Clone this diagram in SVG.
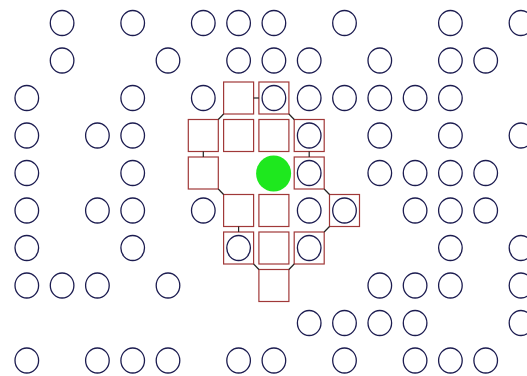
<svg xmlns="http://www.w3.org/2000/svg" width="527" height="376" viewBox="0 0 527 376">
<style>
.c{fill:none;stroke:#1c1c50;stroke-width:1.3}
.s{fill:none;stroke:#a03838;stroke-width:1.2}
.g{fill:#1ee81e;stroke:none}
.k{stroke:#222;stroke-width:1.2;fill:none}
</style>
<defs>
<ellipse id="o" cx="0" cy="0" rx="11.8" ry="12.5" class="c"/>
<rect id="q" x="-15" y="-16" width="30" height="32" class="s"/>
</defs>
<rect width="527" height="376" fill="#fff"/>
<g id="r0">
<g id="n0_1"><use href="#o" x="62.1" y="23"/></g>
<g id="n0_3"><use href="#o" x="132.7" y="23"/></g>
<g id="n0_5"><use href="#o" x="203.3" y="23"/></g>
<g id="n0_6"><use href="#o" x="238.6" y="23"/></g>
<g id="n0_7"><use href="#o" x="273.9" y="23"/></g>
<g id="n0_9"><use href="#o" x="344.5" y="23"/></g>
<g id="n0_12"><use href="#o" x="450.4" y="23"/></g>
<g id="n0_14"><use href="#o" x="521" y="23"/></g>
</g>
<g id="r1">
<g id="n1_1"><use href="#o" x="62.1" y="60.5"/></g>
<g id="n1_4"><use href="#o" x="168" y="60.5"/></g>
<g id="n1_6"><use href="#o" x="238.6" y="60.5"/></g>
<g id="n1_7"><use href="#o" x="273.9" y="60.5"/></g>
<g id="n1_8"><use href="#o" x="309.2" y="60.5"/></g>
<g id="n1_10"><use href="#o" x="379.8" y="60.5"/></g>
<g id="n1_12"><use href="#o" x="450.4" y="60.5"/></g>
<g id="n1_13"><use href="#o" x="485.7" y="60.5"/></g>
</g>
<g id="r2">
<g id="n2_0"><use href="#o" x="26.8" y="98"/></g>
<g id="n2_3"><use href="#o" x="132.7" y="98"/></g>
<g id="n2_5"><use href="#o" x="203.3" y="98"/></g>
<g id="n2_6"><use href="#q" x="238.6" y="98"/></g>
<g id="n2_7"><use href="#q" x="273.9" y="98"/><use href="#o" x="273.9" y="98"/></g>
<g id="n2_8"><use href="#o" x="309.2" y="98"/></g>
<g id="n2_9"><use href="#o" x="344.5" y="98"/></g>
<g id="n2_10"><use href="#o" x="379.8" y="98"/></g>
<g id="n2_11"><use href="#o" x="415.1" y="98"/></g>
<g id="n2_12"><use href="#o" x="450.4" y="98"/></g>
</g>
<g id="r3">
<g id="n3_0"><use href="#o" x="26.8" y="135.5"/></g>
<g id="n3_2"><use href="#o" x="97.4" y="135.5"/></g>
<g id="n3_3"><use href="#o" x="132.7" y="135.5"/></g>
<g id="n3_5"><use href="#q" x="203.3" y="135.5"/></g>
<g id="n3_6"><use href="#q" x="238.6" y="135.5"/></g>
<g id="n3_7"><use href="#q" x="273.9" y="135.5"/></g>
<g id="n3_8"><use href="#q" x="309.2" y="135.5"/><use href="#o" x="309.2" y="135.5"/></g>
<g id="n3_10"><use href="#o" x="379.8" y="135.5"/></g>
<g id="n3_12"><use href="#o" x="450.4" y="135.5"/></g>
<g id="n3_14"><use href="#o" x="521" y="135.5"/></g>
</g>
<g id="r4">
<g id="n4_0"><use href="#o" x="26.8" y="173"/></g>
<g id="n4_3"><use href="#o" x="132.7" y="173"/></g>
<g id="n4_5"><use href="#q" x="203.3" y="173"/></g>
<g id="n4_7"><ellipse class="g" cx="273.6" cy="173.5" rx="17.5" ry="18"/></g>
<g id="n4_8"><use href="#q" x="309.2" y="173"/><use href="#o" x="309.2" y="173"/></g>
<g id="n4_10"><use href="#o" x="379.8" y="173"/></g>
<g id="n4_11"><use href="#o" x="415.1" y="173"/></g>
<g id="n4_12"><use href="#o" x="450.4" y="173"/></g>
<g id="n4_13"><use href="#o" x="485.7" y="173"/></g>
</g>
<g id="r5">
<g id="n5_0"><use href="#o" x="26.8" y="210.5"/></g>
<g id="n5_2"><use href="#o" x="97.4" y="210.5"/></g>
<g id="n5_3"><use href="#o" x="132.7" y="210.5"/></g>
<g id="n5_5"><use href="#o" x="203.3" y="210.5"/></g>
<g id="n5_6"><use href="#q" x="238.6" y="210.5"/></g>
<g id="n5_7"><use href="#q" x="273.9" y="210.5"/></g>
<g id="n5_8"><use href="#o" x="309.2" y="210.5"/></g>
<g id="n5_9"><use href="#q" x="344.5" y="210.5"/><use href="#o" x="344.5" y="210.5"/></g>
<g id="n5_11"><use href="#o" x="415.1" y="210.5"/></g>
<g id="n5_12"><use href="#o" x="450.4" y="210.5"/></g>
<g id="n5_13"><use href="#o" x="485.7" y="210.5"/></g>
</g>
<g id="r6">
<g id="n6_0"><use href="#o" x="26.8" y="248"/></g>
<g id="n6_3"><use href="#o" x="132.7" y="248"/></g>
<g id="n6_6"><use href="#q" x="238.6" y="248"/><use href="#o" x="238.6" y="248"/></g>
<g id="n6_7"><use href="#q" x="273.9" y="248"/></g>
<g id="n6_8"><use href="#q" x="309.2" y="248"/><use href="#o" x="309.2" y="248"/></g>
<g id="n6_12"><use href="#o" x="450.4" y="248"/></g>
<g id="n6_14"><use href="#o" x="521" y="248"/></g>
</g>
<g id="r7">
<g id="n7_0"><use href="#o" x="26.8" y="285.5"/></g>
<g id="n7_1"><use href="#o" x="62.1" y="285.5"/></g>
<g id="n7_2"><use href="#o" x="97.4" y="285.5"/></g>
<g id="n7_4"><use href="#o" x="168" y="285.5"/></g>
<g id="n7_7"><use href="#q" x="273.9" y="285.5"/></g>
<g id="n7_10"><use href="#o" x="379.8" y="285.5"/></g>
<g id="n7_11"><use href="#o" x="415.1" y="285.5"/></g>
<g id="n7_12"><use href="#o" x="450.4" y="285.5"/></g>
<g id="n7_14"><use href="#o" x="521" y="285.5"/></g>
</g>
<g id="r8">
<g id="n8_8"><use href="#o" x="309.2" y="323"/></g>
<g id="n8_9"><use href="#o" x="344.5" y="323"/></g>
<g id="n8_10"><use href="#o" x="379.8" y="323"/></g>
<g id="n8_11"><use href="#o" x="415.1" y="323"/></g>
<g id="n8_14"><use href="#o" x="521" y="323"/></g>
</g>
<g id="r9">
<g id="n9_0"><use href="#o" x="26.8" y="360.5"/></g>
<g id="n9_2"><use href="#o" x="97.4" y="360.5"/></g>
<g id="n9_3"><use href="#o" x="132.7" y="360.5"/></g>
<g id="n9_4"><use href="#o" x="168" y="360.5"/></g>
<g id="n9_6"><use href="#o" x="238.6" y="360.5"/></g>
<g id="n9_7"><use href="#o" x="273.9" y="360.5"/></g>
<g id="n9_9"><use href="#o" x="344.5" y="360.5"/></g>
<g id="n9_11"><use href="#o" x="415.1" y="360.5"/></g>
<g id="n9_12"><use href="#o" x="450.4" y="360.5"/></g>
<g id="n9_13"><use href="#o" x="485.7" y="360.5"/></g>
</g>
<g id="connectors" class="k">
<line x1="253.6" y1="98" x2="258.9" y2="98"/>
<line x1="223.6" y1="114" x2="218.3" y2="119.5"/>
<line x1="288.9" y1="114" x2="294.2" y2="119.5"/>
<line x1="203.3" y1="151.5" x2="203.3" y2="157"/>
<line x1="309.2" y1="151.5" x2="309.2" y2="157"/>
<line x1="218.3" y1="189" x2="223.6" y2="194.5"/>
<line x1="324.2" y1="189" x2="329.5" y2="194.5"/>
<line x1="238.6" y1="226.5" x2="238.6" y2="232"/>
<line x1="329.5" y1="226.5" x2="324.2" y2="232"/>
<line x1="253.6" y1="264" x2="258.9" y2="269.5"/>
<line x1="294.2" y1="264" x2="288.9" y2="269.5"/>
</g>
</svg>
